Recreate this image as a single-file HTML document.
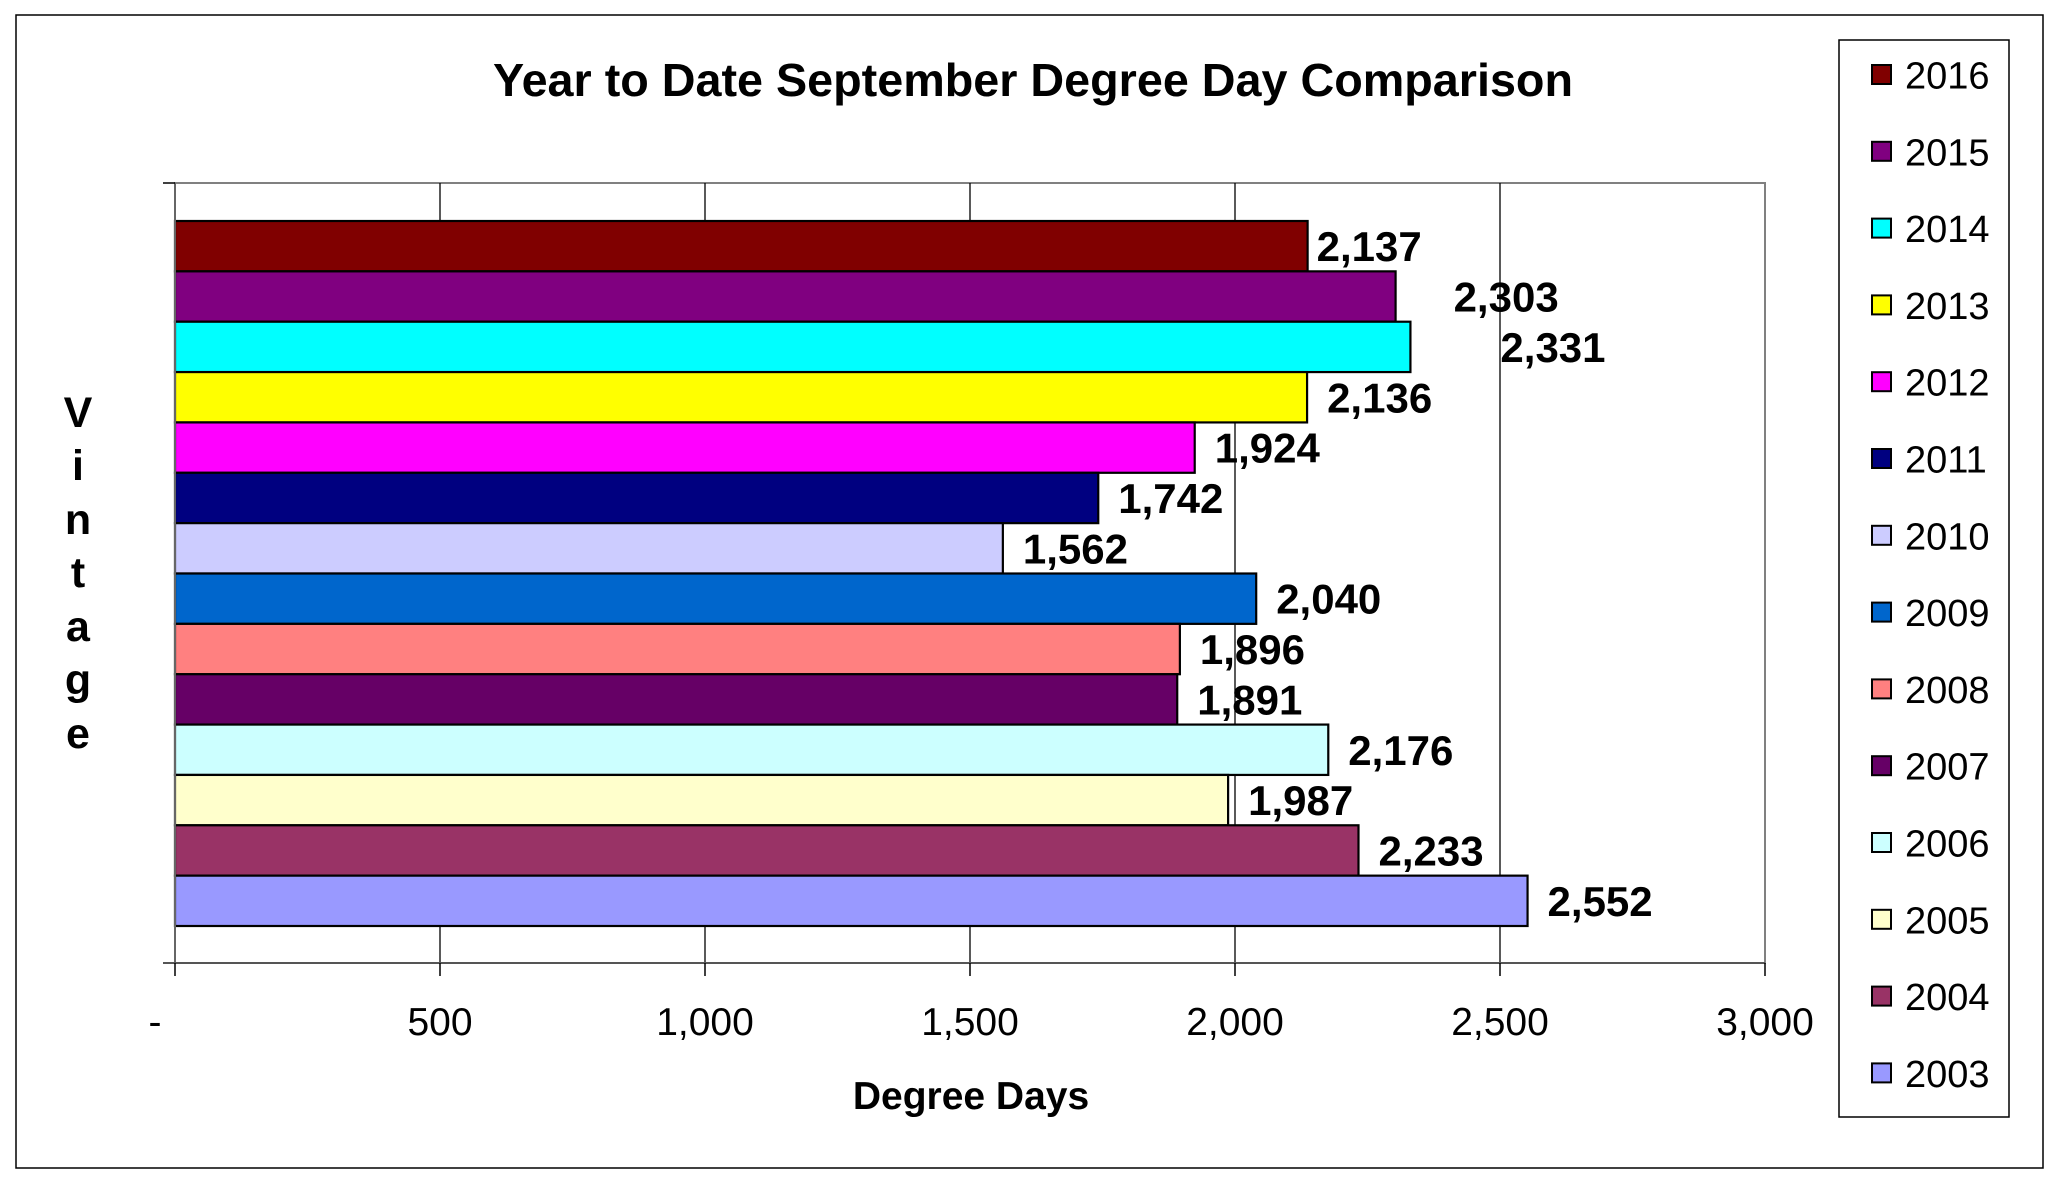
<!DOCTYPE html>
<html><head><meta charset="utf-8"><style>
html,body{margin:0;padding:0;background:#fff}
svg{display:block;font-family:"Liberation Sans",Arial,sans-serif}
</style></head><body>
<svg id="chart" width="2062" height="1185" viewBox="0 0 2062 1185" xmlns="http://www.w3.org/2000/svg">
<rect x="16" y="15" width="2027" height="1153" fill="#fff" stroke="#000" stroke-width="1.5"/>
<text x="1033" y="96" text-anchor="middle" font-size="46" font-weight="bold" textLength="1080" lengthAdjust="spacingAndGlyphs">Year to Date September Degree Day Comparison</text>
<g id="plot"></g>
<text x="971" y="1109" text-anchor="middle" font-size="39" font-weight="bold">Degree Days</text>
<g font-size="43" font-weight="bold" text-anchor="middle">
<text x="78" y="427">V</text><text x="78" y="480">i</text><text x="78" y="534">n</text><text x="78" y="587">t</text><text x="78" y="641">a</text><text x="78" y="694">g</text><text x="78" y="748">e</text>
</g>
<rect x="1839" y="40" width="170" height="1077" fill="#fff" stroke="#000" stroke-width="1.5"/>
<g id="legend"></g>
</svg>
<script>
const categories = ["2016","2015","2014","2013","2012","2011","2010","2009","2008","2007","2006","2005","2004","2003"];
const values = [2137,2303,2331,2136,1924,1742,1562,2040,1896,1891,2176,1987,2233,2552];
const colors = ["#800000","#800080","#00ffff","#ffff00","#ff00ff","#000080","#ccccff","#0066cc","#ff8080","#660066","#ccffff","#ffffcc","#993366","#9999ff"];
const tickValues = [0,500,1000,1500,2000,2500,3000];
const tickLabels = ["-","500","1,000","1,500","2,000","2,500","3,000"];
const labelNudge = [-11,38,70,0,0,0,0,0,0,0,0,0,0,0];

const NS = "http://www.w3.org/2000/svg";
const L = 175, R = 1765, T = 183, B = 963, barTop = 221, barBot = 926;
const xMax = 3000;
function xScale(v){ return L + (v / xMax) * (R - L); }
const band = (barBot - barTop) / categories.length;
function yScale(i){ return barTop + i * band; }
function mk(tag, attrs, parent){
  const e = document.createElementNS(NS, tag);
  for (const k in attrs) e.setAttribute(k, attrs[k]);
  parent.appendChild(e);
  return e;
}
const plot = document.getElementById('plot');
// plot background & border
let bg = mk('rect', {x:L, y:T, width:R-L, height:B-T, fill:'#fff', stroke:'#808080', 'stroke-width':2}, plot);


// gridlines
tickValues.forEach((v, i) => {
  if (v === 0 || v === xMax) return;
  const g = mk('line', {x1:xScale(v), x2:xScale(v), y1:T, y2:B, stroke:'#000', 'stroke-width':1.3}, plot);
  
  
});
// bars
values.forEach((v, i) => {
  const y = yScale(i);
  const r = mk('rect', {x:L, y:y, width:xScale(v)-L, height:band, fill:colors[i], stroke:'#000', 'stroke-width':2.2}, plot);
  
  
});
values.forEach((v, i) => {
  const t = mk('text', {x:xScale(v) + 20 + labelNudge[i], y:yScale(i) + band/2 + 15, 'font-size':42, 'font-weight':'bold'}, plot);
  t.textContent = v.toLocaleString('en-US');
  
  
});
// axes
let ya = mk('line', {x1:L, x2:L, y1:T, y2:B, stroke:'#666', 'stroke-width':2}, plot);


let xa = mk('line', {x1:L-12, x2:R, y1:B, y2:B, stroke:'#555', 'stroke-width':2}, plot);


let yt = mk('line', {x1:L-12, x2:L, y1:T, y2:T, stroke:'#000', 'stroke-width':1.5}, plot);


tickValues.forEach((v, i) => {
  const x = xScale(v);
  const tk = mk('line', {x1:x, x2:x, y1:B, y2:B+13, stroke:'#000', 'stroke-width':1.5}, plot);
  
  
  const lx = v === 0 ? x - 20 : x;
  const t = mk('text', {x:lx, y:1035, 'font-size':39, 'text-anchor':'middle'}, plot);
  t.textContent = tickLabels[i];
  
  
});
// legend
const lg = document.getElementById('legend');
categories.forEach((c, i) => {
  const cy = 75 + i * 76.8;
  const s = mk('rect', {x:1872, y:cy-10, width:19, height:19, fill:colors[i], stroke:'#000', 'stroke-width':2}, lg);
  
  
  const t = mk('text', {x:1905, y:cy+13.5, 'font-size':38}, lg);
  t.textContent = c;
  
  
});
</script>
</body></html>
